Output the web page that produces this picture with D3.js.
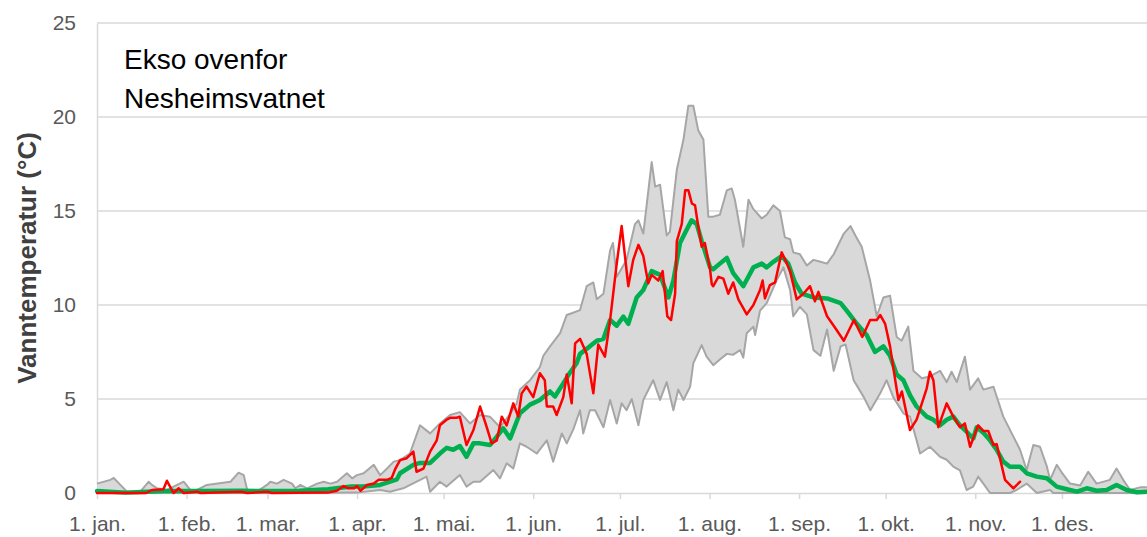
<!DOCTYPE html>
<html lang="no">
<head>
<meta charset="utf-8">
<title>Ekso ovenfor Nesheimsvatnet</title>
<script src="https://d3js.org/d3.v7.min.js"></script>
<style>
  body { margin: 0; background: #ffffff; }
  svg { display: block; font-family: "Liberation Sans", Arial, sans-serif; }
  .tick text { fill: #595959; font-size: 21px; }
  .title { font-size: 28px; fill: #000000; }
  .ylabel { font-size: 26px; font-weight: bold; fill: #404040; }
</style>
</head>
<body>
<svg width="1147" height="537"></svg>
<script>
// x-axis: day of year where each month starts, and its label
const monthTicks = [0, 31, 59, 90, 120, 151, 181, 212, 243, 273, 304, 334];
const monthLabels = ["1. jan.", "1. feb.", "1. mar.", "1. apr.", "1. mai.", "1. jun.",
                     "1. jul.", "1. aug.", "1. sep.", "1. okt.", "1. nov.", "1. des."];
const yTicks = [0, 5, 10, 15, 20, 25];

// highest recorded temperature (upper edge of grey band)
const maxDay = [0,4.6,5.8,8.1,10.4,15,17.9,19,20.8,24.2,30,32.3,34.6,38,46.2,49,50.8,52,55.4,58.8,
  60,62.3,64.6,67.5,68.7,70.4,72.7,76.2,78.5,80.8,83.1,86.5,88.3,90,92.3,95.8,98,100.4,102.7,104.9,
  108.3,111.8,115.3,118.7,122.2,125.6,129.1,132.6,136,139.5,143,145.3,146.4,149.9,153.3,154.5,156.8,160.3,162.6,164.3,
  167.2,169.5,171.8,173,175.3,177.6,178.6,179.9,183.3,186.2,187.4,189.1,192,193.2,194.9,197.2,198.3,200.7,203,204.7,
  206.4,208.1,209.9,211.6,213.3,215.6,218,219.7,220.8,223.7,225.5,227.2,230.1,231.8,234.1,236.4,238.1,239.9,241,243.3,
  245.7,248,250.4,252.7,255,258.5,260.8,262.5,264.7,267.6,269.9,272.2,274.5,276.8,278.5,280.8,282.6,285.5,288.3,291.8,
  294.1,295.8,297.6,300.4,302.2,305,306.8,310.3,313.7,317.2,319.5,321.8,324.1,326.4,328.8,329.9,332.2,333.9,336.8,340.3,
  343.1,346,350.6,352.9,355.2,357.6,361,363.4];
const maxTemp = [0.5,0.7,0.8,0.43,0.07,0.07,0.6,0.43,0.25,0.16,0.6,0.16,0.16,0.43,0.6,1.08,0.95,0.16,0.07,0.43,
  0.6,0.5,0.7,0.5,0.25,0.43,0.25,0.5,0.6,0.5,0.6,1.05,0.78,0.95,1.05,1.5,0.95,1.3,1.67,1.75,
  2.1,3.6,3.17,3.7,4.15,4.3,3.7,4.15,4.06,3.5,4.2,4.77,5.5,6.0,6.7,7.3,7.8,8.5,9.47,9.56,
  9.73,11.0,11.2,10.3,10.6,12.9,13.3,11.5,12.4,14.3,14.5,13.8,17.6,16.3,16.4,13.7,13.9,17.2,18.8,20.6,
  20.6,19.3,18.8,14.7,14.7,14.8,16.1,16.2,15.6,13.1,15.6,15.1,14.6,14.8,15.3,15.0,13.6,13.5,12.8,12.7,
  12.1,12.4,12.3,12.2,12.7,13.8,14.2,13.7,13.1,11.3,9.4,10.4,10.5,8.3,8.1,8.85,6.5,6.1,6.2,6.5,
  5.9,6.45,5.9,7.25,5.5,6.1,5.5,5.65,4.06,3.0,2.3,1.22,2.55,2.46,1.4,0.7,1.5,1.1,0.5,0.4,
  1.13,0.5,0.7,1.3,0.7,0.16,0.3,0.3];

// lowest recorded temperature (lower edge of grey band)
const minDay = [0,30,60,90,98,101.4,106,114.1,115.3,118.7,121,125.6,127.9,130.3,132.6,137.2,139.5,141.8,144.1,146.4,
  148.7,152.2,155.7,157.9,160.9,162.6,164.9,167.2,168.3,170.6,172.4,175.3,177.6,179.9,181.6,183.3,185.1,187.4,189.1,192.5,
  194.9,197.2,199.5,201.2,203,205.3,206.4,209.3,211,213.3,215.6,218,220.1,222.6,223.7,224.9,227.2,227.8,229.5,231.8,
  235.2,237.6,239.9,241,243.3,245.7,248,250.4,252.7,255,257.4,259.1,261.9,265.4,267.7,271.1,273.3,275.6,279.1,281.4,
  283.7,284.9,288.3,291.8,294.1,296.4,298.7,301,303.3,305,306.8,309.1,316,318.3,321.8,325.3,329.9,331,363.4];
const minTemp = [0,0,0,0.02,0.16,0.07,0.25,0.87,0.07,0.6,0.34,0.96,0.34,0.6,0.6,1.22,0.78,1.58,1.3,2.64,
  2.46,2.1,2.8,1.67,3.17,2.64,3.4,4.4,3.17,4.4,4.4,3.5,4.95,3.7,4.77,4.4,5.0,3.6,4.95,6.0,
  4.95,5.9,4.4,5.5,4.95,5.65,6.9,7.87,7.25,6.8,7.1,7.4,7.35,7.6,7.2,8.5,8.85,8.4,9.7,10.1,
  11.3,12.0,10.8,9.4,9.9,9.5,7.6,7.3,8.7,6.5,7.8,7.9,6.0,5.1,4.4,5.3,6.0,5.1,4.24,4.06,
  2.8,2.1,2.46,1.93,1.77,1.4,1.2,0.16,0.34,0.87,0.5,0,0,0.16,0.5,0,0.16,0,0];

// mean temperature (green)
const meanDay = [0,10,17,23,35,50,58,70,80,88,92,98,100.4,103.8,104.9,109.5,111.8,115.3,118.7,121,
  123.3,125.6,127.9,130.3,132.6,136,138.4,140.6,143,146.4,149.9,153.3,156.8,158.5,161.4,163.7,166,167.2,170.6,173,
  175.3,177.6,179.9,182.2,183.9,186.8,189.1,192,194.9,197.8,199.5,201.8,204.1,205.8,207.6,209.3,212.2,213.3,215.6,218,
  220.2,223.7,227.2,230.1,231.8,234.1,237,239.3,241.6,243.9,248,252.7,257.4,259.5,263,266.4,269.3,272.2,274.5,276.8,
  279.1,281.4,283.7,287.2,289.5,291.8,294.1,296.4,298.7,301,303.3,304.5,306.8,309.1,311.4,313.7,316,319.5,321.8,325.3,
  328.8,332.2,335.7,339.2,342.6,346,349.5,352.9,356.4,359.9,363.4];
const meanTemp = [0.1,0.02,0.07,0.1,0.1,0.12,0.1,0.12,0.2,0.34,0.34,0.43,0.55,0.73,1.05,1.5,1.6,1.6,2.1,2.4,
  2.3,2.5,1.93,2.64,2.64,2.55,3.0,3.44,2.9,4.24,4.7,4.95,5.4,5.13,5.83,6.4,6.9,7.4,7.8,8.1,
  8.2,9.2,8.9,9.38,9.0,10.4,10.8,11.8,11.6,10.4,11.3,13.3,14.0,14.5,14.3,13.4,12.0,11.9,12.2,12.5,
  11.7,11.0,12.0,12.2,12.0,12.3,12.6,12.2,11.2,10.6,10.4,10.35,10.1,9.7,9.0,8.4,7.5,7.8,7.3,6.3,
  6.0,5.2,4.6,4.06,3.9,3.6,3.9,4.06,3.6,3.26,2.9,3.5,3.2,2.8,2.3,1.67,1.4,1.4,1.05,0.87,
  0.78,0.34,0.2,0.07,0.25,0.12,0.16,0.43,0.16,0.04,0.07];

// this year's observations (red)
const obsDay = [0,17,19,23,24.2,26.5,28.3,30,34.6,35.8,50,52,59,60.5,80,83,85.4,87,89,90,
  91.2,93.5,95.8,97.5,100.4,102,103.3,104.9,107.2,109.5,110.6,113,115.3,117.6,118.7,121,122.2,124.5,125.6,127.9,
  130.3,132.6,134.9,136.6,138.4,140.1,141.8,144.1,145.8,147,148.7,151,153.3,155,155.7,157.9,159.1,161.4,162.6,164.3,
  165.5,167.2,169.5,171.8,173.5,175.8,177.6,179.9,181.6,183.9,185.6,187.4,189.1,190.8,192,194.3,195.8,197.4,198.7,200.1,
  200.7,202.4,203.6,204.7,205.9,207,208.1,209.3,210.4,212.2,212.8,213.3,215.1,216.8,218.5,220.2,222,224.9,227.2,229.5,
  230.4,231.2,232.9,234.7,237,238.8,239.9,242.2,244.5,246.8,248.5,249.7,252.7,255,258.5,262,264.9,267.6,269.9,271.1,
  272.8,274.5,276.3,277.4,278.6,281.4,283.7,287.2,288.3,289.5,291.2,294.1,296.4,298.7,300.4,302.2,305,306.8,308.5,310.3,
  311.4,314.3,317.2,319.5];
const obsTemp = [0,0,0.16,0.2,0.65,0,0.25,0,0.07,0,0.07,0,0.07,0,0.02,0.12,0.37,0.25,0.25,0.37,
  0.12,0.43,0.5,0.7,0.7,0.8,1.3,1.75,1.85,2.2,1.13,1.3,2.2,2.8,3.6,3.9,4.0,4.0,4.06,2.55,
  3.35,4.6,3.5,2.64,2.8,4.06,3.6,4.77,4.06,5.3,5.66,5.1,6.37,6.0,4.6,4.6,4.15,5.1,6.3,4.77,
  7.96,8.2,7.4,5.3,7.9,7.25,9.2,12.2,14.2,11.0,12.4,13.2,12.6,11.15,11.6,11.3,11.8,9.4,9.2,10.6,
  13.4,14.3,16.1,16.1,15.4,15.3,14.2,13.1,13.3,11.9,11.1,11.0,11.5,11.4,10.6,11.2,10.3,9.5,10.0,10.8,
  11.3,10.35,11.06,11.2,12.8,12.2,11.8,10.3,10.6,11.0,10.2,10.7,9.4,8.9,8.1,9.2,8.3,9.2,9.2,9.47,
  9.0,7.8,6.0,4.95,5.4,3.35,3.9,5.57,6.45,6.0,3.5,4.77,4.06,3.5,3.7,2.46,3.6,3.3,3.3,2.55,
  2.6,0.7,0.25,0.6];

const svg = d3.select("svg");
const W = 1147;

const x = d3.scaleLinear().domain([0, 365]).range([97, 1151.5]);
const y = d3.scaleLinear().domain([0, 25]).range([493, 23]);

// horizontal gridlines
svg.append("g")
   .selectAll("line")
   .data(yTicks.slice(1))
   .join("line")
   .attr("x1", x(0)).attr("x2", W)
   .attr("y1", d => y(d)).attr("y2", d => y(d))
   .attr("stroke", "#d9d9d9")
   .attr("stroke-width", 1.5);

// y axis (labels + vertical line)
const yAxis = svg.append("g")
   .attr("transform", `translate(${x(0)},0)`)
   .call(d3.axisLeft(y).tickValues(yTicks).tickSize(0).tickPadding(21));
yAxis.select(".domain").attr("stroke", "#d9d9d9").attr("stroke-width", 1.5);

// grey min-max band
const maxPts = d3.zip(maxDay, maxTemp);
const minPts = d3.zip(minDay, minTemp);
const line = d3.line().x(d => x(d[0])).y(d => y(d[1]));

svg.append("path")
   .attr("d", line(maxPts.concat(minPts.slice().reverse())) + "Z")
   .attr("fill", "#d9d9d9")
   .attr("stroke", "none");

// x axis
const xAxis = svg.append("g")
   .attr("transform", `translate(0,${y(0)})`)
   .call(d3.axisBottom(x)
          .tickValues(monthTicks)
          .tickFormat((d, i) => monthLabels[i])
          .tickSizeInner(6).tickSizeOuter(0).tickPadding(17));
xAxis.select(".domain").attr("stroke", "#d9d9d9").attr("stroke-width", 1.5);
xAxis.selectAll(".tick line").attr("stroke", "#d9d9d9").attr("stroke-width", 1.5);

[maxPts, minPts].forEach(pts => {
  svg.append("path")
     .attr("d", line(pts))
     .attr("fill", "none")
     .attr("stroke", "#a6a6a6")
     .attr("stroke-width", 2)
     .attr("stroke-linejoin", "round");
});

// mean line
svg.append("path")
   .attr("d", line(d3.zip(meanDay, meanTemp)))
   .attr("fill", "none")
   .attr("stroke", "#00b050")
   .attr("stroke-width", 4.5)
   .attr("stroke-linejoin", "round")
   .attr("stroke-linecap", "round");

// this year
svg.append("path")
   .attr("d", line(d3.zip(obsDay, obsTemp)))
   .attr("fill", "none")
   .attr("stroke", "#ff0000")
   .attr("stroke-width", 2.5)
   .attr("stroke-linejoin", "round")
   .attr("stroke-linecap", "round");

// station name
svg.append("text").attr("class", "title").attr("x", 124).attr("y", 69).text("Ekso ovenfor");
svg.append("text").attr("class", "title").attr("x", 124).attr("y", 108).text("Nesheimsvatnet");

// axis title
svg.append("text")
   .attr("class", "ylabel")
   .attr("transform", "translate(36,258) rotate(-90)")
   .attr("text-anchor", "middle")
   .text("Vanntemperatur (°C)");
</script>
</body>
</html>
